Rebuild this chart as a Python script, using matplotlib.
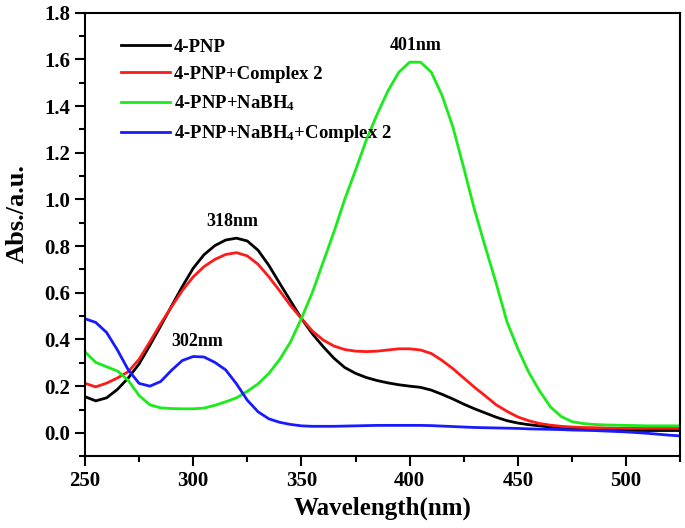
import matplotlib
matplotlib.use("Agg")
import matplotlib.pyplot as plt
from matplotlib.ticker import MultipleLocator

# wavelength grid (nm) and absorbance
wavelength = [250, 255, 260, 265, 270, 275, 280, 285, 290, 295,
              300, 305, 310, 315, 320, 325, 330, 335, 340, 345,
              350, 355, 360, 365, 370, 375, 380, 385, 390, 395,
              400, 405, 410, 415, 420, 425, 430, 435, 440, 445,
              450, 455, 460, 465, 470, 475, 480, 485, 490, 495,
              500, 505, 510, 515, 520, 525]

pnp = [0.155, 0.137, 0.150, 0.186, 0.235, 0.295, 0.375, 0.458, 0.543, 0.627,
       0.705, 0.763, 0.802, 0.826, 0.834, 0.822, 0.782, 0.717, 0.640, 0.565,
       0.490, 0.425, 0.370, 0.320, 0.280, 0.255, 0.237, 0.224, 0.214, 0.206,
       0.200, 0.195, 0.183, 0.165, 0.145, 0.123, 0.103, 0.085, 0.067, 0.052,
       0.042, 0.035, 0.030, 0.025, 0.021, 0.018, 0.015, 0.013, 0.012, 0.011,
       0.010, 0.010, 0.010, 0.010, 0.010, 0.010]

pnp_complex = [0.212, 0.197, 0.213, 0.235, 0.262, 0.315, 0.390, 0.468, 0.540, 0.610,
               0.668, 0.712, 0.743, 0.764, 0.772, 0.758, 0.722, 0.668, 0.608, 0.545,
               0.490, 0.437, 0.398, 0.372, 0.357, 0.350, 0.348, 0.350, 0.355, 0.360,
               0.360, 0.355, 0.340, 0.310, 0.275, 0.235, 0.195, 0.158, 0.120, 0.092,
               0.068, 0.052, 0.040, 0.033, 0.028, 0.025, 0.023, 0.022, 0.021, 0.020,
               0.020, 0.020, 0.020, 0.020, 0.020, 0.020]

pnp_nabh4 = [0.347, 0.302, 0.283, 0.265, 0.225, 0.160, 0.120, 0.107, 0.104, 0.103,
             0.103, 0.106, 0.118, 0.133, 0.150, 0.178, 0.210, 0.255, 0.315, 0.390,
             0.490, 0.600, 0.730, 0.860, 1.000, 1.125, 1.255, 1.365, 1.465, 1.545,
             1.588, 1.588, 1.545, 1.445, 1.310, 1.135, 0.955, 0.795, 0.640, 0.475,
             0.360, 0.260, 0.180, 0.112, 0.070, 0.048, 0.040, 0.036, 0.034, 0.033,
             0.032, 0.031, 0.030, 0.030, 0.030, 0.030]

pnp_nabh4_complex = [0.489, 0.473, 0.430, 0.355, 0.270, 0.212, 0.200, 0.220, 0.268, 0.310,
                     0.327, 0.325, 0.302, 0.270, 0.210, 0.140, 0.090, 0.060, 0.045, 0.036,
                     0.030, 0.028, 0.028, 0.028, 0.029, 0.030, 0.031, 0.032, 0.032, 0.032,
                     0.032, 0.032, 0.031, 0.029, 0.027, 0.025, 0.023, 0.022, 0.021, 0.020,
                     0.019, 0.017, 0.016, 0.015, 0.014, 0.012, 0.011, 0.010, 0.008, 0.006,
                     0.004, 0.001, -0.002, -0.006, -0.010, -0.013]

labels = ["4-PNP", "4-PNP+Complex 2", "4-PNP+NaBH$_4$", "4-PNP+NaBH$_4$+Complex 2"]
colors = ["#000000", "#ff1a1a", "#1aeb1a", "#1a1aff"]

peak_labels = ["318nm", "302nm", "401nm"]
peak_pos = [(318, 0.905), (302, 0.39), (403, 1.66)]

plt.rcParams["font.family"] = "Liberation Serif"
plt.rcParams["font.weight"] = "bold"
plt.rcParams["mathtext.fontset"] = "custom"
plt.rcParams["mathtext.rm"] = "Liberation Serif:bold"
plt.rcParams["mathtext.default"] = "rm"
plt.rcParams["lines.solid_joinstyle"] = "round"

fig = plt.figure(figsize=(6.85, 5.28), dpi=100)
ax = fig.add_axes([0.124, 0.136, 0.869, 0.840])

series = [pnp, pnp_complex, pnp_nabh4, pnp_nabh4_complex]
for y, lab, c in zip(series, labels, colors):
    ax.plot(wavelength, y, color=c, lw=2.0, label=lab)

for txt, (x, y) in zip(peak_labels, peak_pos):
    ax.text(x, y, txt, ha="center", va="center", fontsize=13, fontweight="bold")

ax.set_xlim(250, 525)
ax.set_ylim(-0.1, 1.8)
ax.xaxis.set_major_locator(MultipleLocator(50))
ax.xaxis.set_minor_locator(MultipleLocator(25))
ax.yaxis.set_major_locator(MultipleLocator(0.2))
ax.yaxis.set_minor_locator(MultipleLocator(0.1))
ax.yaxis.set_major_formatter(plt.FormatStrFormatter("%.1f"))

ax.tick_params(which="major", direction="out", length=7, width=1.5, labelsize=15)
ax.tick_params(which="minor", direction="out", length=4, width=1.5)
ax.tick_params(top=False, right=False)
for s in ax.spines.values():
    s.set_linewidth(1.5)

ax.set_xlabel("Wavelength(nm)", fontsize=18, fontweight="bold", labelpad=4)
ax.set_ylabel("Abs./a.u.", fontsize=19, fontweight="bold")
ax.yaxis.set_label_coords(-0.095, 0.548)

ax.legend(loc="upper left", bbox_to_anchor=(0.033, 0.98), frameon=False,
          handlelength=2.6, handletextpad=0.2, labelspacing=0.55,
          prop={"weight": "bold", "size": 13.5})

fig.savefig("out.png", dpi=100)
